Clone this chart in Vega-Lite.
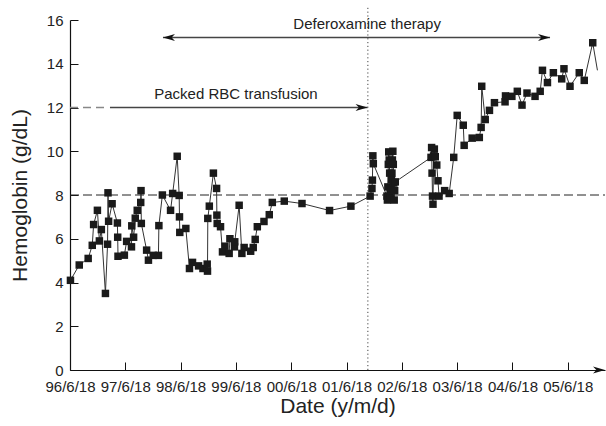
{
  "$schema": "https://vega.github.io/schema/vega-lite/v6.json",
  "width": 535,
  "height": 350,
  "autosize": {"type": "none"},
  "padding": {"left": 70, "top": 20, "right": 1, "bottom": 56},
  "background": "white",
  "config": {
    "view": {"stroke": null},
    "font": "Liberation Sans",
    "axis": {
      "grid": false,
      "domainColor": "#111",
      "domainWidth": 1.2,
      "tickColor": "#111",
      "tickSize": -8,
      "labelPadding": 15,
      "labelColor": "#222",
      "labelFont": "Liberation Sans",
      "labelFontSize": 15,
      "labelFlush": false,
      "labelOverlap": false,
      "titleColor": "#222",
      "titleFont": "Liberation Sans",
      "titleFontSize": 21,
      "titleFontWeight": "normal"
    }
  },
  "datasets": {
    "hb": [
      {"d": "1996-06-21", "hb": 4.1},
      {"d": "1996-08-18", "hb": 4.8},
      {"d": "1996-10-16", "hb": 5.1},
      {"d": "1996-11-12", "hb": 5.7},
      {"d": "1996-11-21", "hb": 6.65},
      {"d": "1996-12-16", "hb": 7.3},
      {"d": "1996-12-29", "hb": 5.9},
      {"d": "1997-01-11", "hb": 6.42},
      {"d": "1997-02-07", "hb": 3.5},
      {"d": "1997-02-21", "hb": 5.75},
      {"d": "1997-02-24", "hb": 8.1},
      {"d": "1997-02-28", "hb": 6.8},
      {"d": "1997-03-23", "hb": 7.6},
      {"d": "1997-04-27", "hb": 6.72},
      {"d": "1997-04-29", "hb": 6.07},
      {"d": "1997-05-01", "hb": 5.2},
      {"d": "1997-06-12", "hb": 5.25},
      {"d": "1997-06-27", "hb": 5.88},
      {"d": "1997-07-29", "hb": 5.63},
      {"d": "1997-07-31", "hb": 6.59},
      {"d": "1997-08-12", "hb": 6.07},
      {"d": "1997-08-23", "hb": 6.94},
      {"d": "1997-09-05", "hb": 7.3},
      {"d": "1997-09-28", "hb": 7.66},
      {"d": "1997-09-30", "hb": 8.2},
      {"d": "1997-10-02", "hb": 6.7},
      {"d": "1997-11-06", "hb": 5.48},
      {"d": "1997-11-18", "hb": 5.02},
      {"d": "1997-12-20", "hb": 5.24},
      {"d": "1998-01-23", "hb": 5.24},
      {"d": "1998-01-26", "hb": 6.6},
      {"d": "1998-02-18", "hb": 8.0},
      {"d": "1998-04-13", "hb": 7.3},
      {"d": "1998-04-27", "hb": 8.07},
      {"d": "1998-05-27", "hb": 9.77},
      {"d": "1998-06-09", "hb": 7.98},
      {"d": "1998-06-11", "hb": 7.0},
      {"d": "1998-06-13", "hb": 6.29},
      {"d": "1998-07-23", "hb": 6.47},
      {"d": "1998-08-16", "hb": 4.64},
      {"d": "1998-09-05", "hb": 4.92},
      {"d": "1998-10-15", "hb": 4.76},
      {"d": "1998-11-13", "hb": 4.64},
      {"d": "1998-12-11", "hb": 4.84},
      {"d": "1998-12-13", "hb": 4.52},
      {"d": "1998-12-15", "hb": 6.93},
      {"d": "1998-12-25", "hb": 7.49},
      {"d": "1999-01-21", "hb": 9.0},
      {"d": "1999-02-11", "hb": 8.3},
      {"d": "1999-02-13", "hb": 7.08},
      {"d": "1999-02-15", "hb": 6.7},
      {"d": "1999-03-09", "hb": 6.55},
      {"d": "1999-03-22", "hb": 5.4},
      {"d": "1999-04-07", "hb": 5.66},
      {"d": "1999-05-05", "hb": 5.33},
      {"d": "1999-05-10", "hb": 6.0},
      {"d": "1999-06-09", "hb": 5.63},
      {"d": "1999-06-11", "hb": 5.86},
      {"d": "1999-07-10", "hb": 7.53},
      {"d": "1999-07-28", "hb": 5.33},
      {"d": "1999-08-12", "hb": 5.6},
      {"d": "1999-09-24", "hb": 5.43},
      {"d": "1999-10-11", "hb": 5.6},
      {"d": "1999-10-24", "hb": 5.97},
      {"d": "1999-11-07", "hb": 6.55},
      {"d": "1999-12-21", "hb": 6.79},
      {"d": "2000-01-25", "hb": 7.1},
      {"d": "2000-02-14", "hb": 7.66},
      {"d": "2000-05-03", "hb": 7.72},
      {"d": "2000-08-28", "hb": 7.61},
      {"d": "2001-02-26", "hb": 7.29},
      {"d": "2001-07-17", "hb": 7.49},
      {"d": "2001-11-21", "hb": 7.95},
      {"d": "2001-12-03", "hb": 8.3},
      {"d": "2001-12-06", "hb": 8.68},
      {"d": "2001-12-09", "hb": 9.79},
      {"d": "2001-12-12", "hb": 9.43},
      {"d": "2002-03-12", "hb": 7.95},
      {"d": "2002-03-15", "hb": 7.77},
      {"d": "2002-03-18", "hb": 8.37},
      {"d": "2002-03-21", "hb": 9.4},
      {"d": "2002-03-24", "hb": 9.97},
      {"d": "2002-03-27", "hb": 9.6},
      {"d": "2002-03-30", "hb": 9.0},
      {"d": "2002-04-02", "hb": 8.15},
      {"d": "2002-04-05", "hb": 7.85},
      {"d": "2002-04-08", "hb": 8.3},
      {"d": "2002-04-11", "hb": 8.7},
      {"d": "2002-04-14", "hb": 9.0},
      {"d": "2002-04-17", "hb": 9.6},
      {"d": "2002-04-20", "hb": 10.0},
      {"d": "2002-04-23", "hb": 9.4},
      {"d": "2002-04-26", "hb": 8.55},
      {"d": "2002-04-29", "hb": 7.77},
      {"d": "2002-05-02", "hb": 8.2},
      {"d": "2002-05-06", "hb": 8.6},
      {"d": "2002-12-28", "hb": 9.72},
      {"d": "2003-01-01", "hb": 10.17},
      {"d": "2003-01-04", "hb": 9.0},
      {"d": "2003-01-07", "hb": 7.95},
      {"d": "2003-01-10", "hb": 7.58},
      {"d": "2003-01-14", "hb": 9.78},
      {"d": "2003-01-19", "hb": 10.1},
      {"d": "2003-01-25", "hb": 9.75},
      {"d": "2003-02-04", "hb": 9.37},
      {"d": "2003-02-12", "hb": 8.65},
      {"d": "2003-02-19", "hb": 7.95},
      {"d": "2003-03-28", "hb": 8.2},
      {"d": "2003-04-27", "hb": 8.07},
      {"d": "2003-05-27", "hb": 9.72},
      {"d": "2003-06-19", "hb": 11.64},
      {"d": "2003-07-29", "hb": 11.19},
      {"d": "2003-08-04", "hb": 10.27},
      {"d": "2003-09-26", "hb": 10.6},
      {"d": "2003-11-12", "hb": 10.63},
      {"d": "2003-11-24", "hb": 11.09},
      {"d": "2003-11-28", "hb": 12.97},
      {"d": "2003-12-21", "hb": 11.45},
      {"d": "2004-01-18", "hb": 11.87},
      {"d": "2004-02-20", "hb": 12.22},
      {"d": "2004-04-30", "hb": 12.26},
      {"d": "2004-05-03", "hb": 12.53},
      {"d": "2004-06-14", "hb": 12.51},
      {"d": "2004-07-20", "hb": 12.74},
      {"d": "2004-08-20", "hb": 12.11},
      {"d": "2004-09-22", "hb": 12.66},
      {"d": "2004-11-14", "hb": 12.51},
      {"d": "2004-12-18", "hb": 12.74},
      {"d": "2005-01-02", "hb": 13.7},
      {"d": "2005-02-04", "hb": 13.14},
      {"d": "2005-03-15", "hb": 13.59},
      {"d": "2005-05-09", "hb": 13.31},
      {"d": "2005-05-24", "hb": 13.77},
      {"d": "2005-07-03", "hb": 12.97},
      {"d": "2005-09-02", "hb": 13.59},
      {"d": "2005-10-05", "hb": 13.24},
      {"d": "2005-11-30", "hb": 14.96},
      {"d": "2005-12-31", "hb": 13.7, "end": true}
    ],
    "threshold": [{"d": "1996-06-18", "d2": "2006-02-19", "hb": 8}],
    "start": [{"d": "2001-11-06", "hb": 0, "hb2": 16.6}],
    "periods": [
      {"d": "1998-02-22", "d2": "2005-02-21", "hb": 15.2},
      {"d": "1997-03-09", "d2": "2001-11-04", "hb": 12}
    ],
    "before": [{"d": "1996-06-18", "d2": "1997-02-17", "hb": 12}],
    "headsRight": [
      {"d": "2005-02-21", "hb": 15.2},
      {"d": "2001-11-04", "hb": 12},
      {"d": "2006-02-19", "hb": 0}
    ],
    "headsLeft": [{"d": "1998-02-22", "hb": 15.2}],
    "notes": [
      {"d": "2001-11-01", "hb": 15.6, "label": "Deferoxamine therapy"},
      {"d": "1999-06-19", "hb": 12.39, "label": "Packed RBC transfusion"}
    ]
  },
  "encoding": {
    "x": {
      "field": "d",
      "type": "temporal",
      "title": "Date (y/m/d)",
      "scale": {
        "type": "utc",
        "domain": [
          {"year": 1996, "month": 6, "date": 18, "utc": true},
          {"year": 2006, "month": 2, "date": 19, "utc": true}
        ]
      },
      "axis": {
        "values": [
          {"year": 1996, "month": 6, "date": 18, "utc": true},
          {"year": 1997, "month": 6, "date": 18, "utc": true},
          {"year": 1998, "month": 6, "date": 18, "utc": true},
          {"year": 1999, "month": 6, "date": 18, "utc": true},
          {"year": 2000, "month": 6, "date": 18, "utc": true},
          {"year": 2001, "month": 6, "date": 18, "utc": true},
          {"year": 2002, "month": 6, "date": 18, "utc": true},
          {"year": 2003, "month": 6, "date": 18, "utc": true},
          {"year": 2004, "month": 6, "date": 18, "utc": true},
          {"year": 2005, "month": 6, "date": 18, "utc": true}
        ],
        "labelExpr": "utcFormat(datum.value, '%y/%-m/%d')",
        "labelPadding": 17,
        "titlePadding": 1
      }
    },
    "y": {
      "field": "hb",
      "type": "quantitative",
      "title": "Hemoglobin (g/dL)",
      "scale": {"domain": [0, 16], "nice": false, "zero": true},
      "axis": {"values": [0, 2, 4, 6, 8, 10, 12, 14, 16], "titlePadding": 16}
    }
  },
  "layer": [
    {
      "data": {"name": "threshold"},
      "mark": {"type": "rule", "color": "#222", "strokeWidth": 1, "strokeDash": [9, 4]},
      "encoding": {"x2": {"field": "d2"}}
    },
    {
      "data": {"name": "start"},
      "mark": {"type": "rule", "color": "#444", "strokeWidth": 1, "strokeDash": [1.2, 2.6]},
      "encoding": {"y2": {"field": "hb2"}}
    },
    {
      "data": {"name": "periods"},
      "mark": {"type": "rule", "color": "#444", "strokeWidth": 1.3},
      "encoding": {"x2": {"field": "d2"}}
    },
    {
      "data": {"name": "before"},
      "mark": {"type": "rule", "color": "#888", "strokeWidth": 1.3, "strokeDash": [8, 5]},
      "encoding": {"x2": {"field": "d2"}}
    },
    {
      "data": {"name": "headsRight"},
      "mark": {"type": "point", "shape": "M 0 0 L -1 -0.3 L -0.72 0 L -1 0.3 Z", "size": 576, "filled": true, "color": "#111", "opacity": 1, "strokeWidth": 0}
    },
    {
      "data": {"name": "headsLeft"},
      "mark": {"type": "point", "shape": "M 0 0 L 1 -0.3 L 0.72 0 L 1 0.3 Z", "size": 576, "filled": true, "color": "#111", "opacity": 1, "strokeWidth": 0}
    },
    {
      "data": {"name": "notes"},
      "mark": {"type": "text", "fontSize": 15, "align": "center", "baseline": "alphabetic", "color": "#222", "font": "Liberation Sans"},
      "encoding": {"text": {"field": "label"}}
    },
    {
      "data": {"name": "hb"},
      "mark": {"type": "line", "color": "#333", "strokeWidth": 1}
    },
    {
      "data": {"name": "hb"},
      "transform": [{"filter": "!datum.end"}],
      "mark": {"type": "point", "shape": "square", "size": 56, "filled": true, "color": "#1a1a1a", "opacity": 1}
    }
  ]
}
